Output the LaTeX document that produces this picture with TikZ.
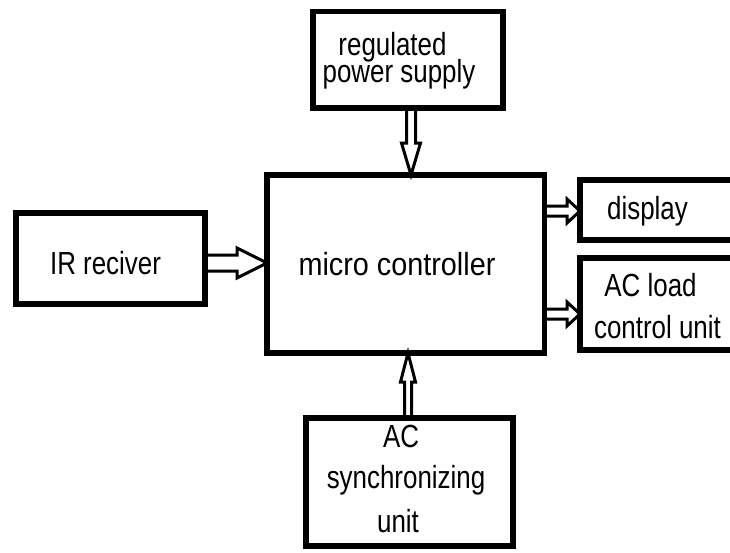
\documentclass[tikz,border=0pt]{standalone}
\usepackage{fontspec}
\setmainfont{Liberation Sans}[FakeStretch=0.81]
\newfontfamily\mcfont{Liberation Sans}[FakeStretch=0.9]
\usetikzlibrary{calc}
\tikzset{
  box/.style={draw, line width=5.5pt, inner sep=0pt, outer sep=0pt, rectangle},
  txt/.style={inner sep=0pt, anchor=base, font=\fontsize{32}{32}\selectfont},
  arrowline/.style={draw, line width=3pt, line join=miter},
}
% vertical hollow arrow: #1 start, #2 end, #3 half shaft, #4 half head, #5 head length
\newcommand\varr[5]{%
  \draw[arrowline] let \p1=(#1), \p2=(#2), \n1={ifthenelse(\y2>\y1,1,-1)},
    \n2={\y2-\n1*#5} in
    ({\x1-#3pt},\y1) -- ({\x1-#3pt},\n2) -- ({\x1-#4pt},\n2) --
    (\x1,\y2) -- ({\x1+#4pt},\n2) -- ({\x1+#3pt},\n2) -- ({\x1+#3pt},\y1);}
% horizontal hollow arrow
\newcommand\harr[5]{%
  \draw[arrowline] let \p1=(#1), \p2=(#2), \n1={ifthenelse(\x2>\x1,1,-1)},
    \n2={\x2-\n1*#5} in
    (\x1,{\y1-#3pt}) -- (\n2,{\y1-#3pt}) -- (\n2,{\y1-#4pt}) --
    (\x2,\y1) -- (\n2,{\y1+#4pt}) -- (\n2,{\y1+#3pt}) -- (\x1,{\y1+#3pt});}
\begin{document}
\begin{tikzpicture}[x=1pt,y=-1pt]
\useasboundingbox (0,0) rectangle (730,552);
\clip (0,0) rectangle (730,552);
\fill[white] (0,0) rectangle (730,552);
% boxes
\node[box, minimum width=190pt, minimum height=96.5pt] (reg) at (408,59.75) {};
\node[box, minimum width=277.5pt, minimum height=178pt] (mc) at (405.75,264) {};
\node[box, minimum width=189pt, minimum height=91pt] (ir) at (110.5,258.5) {};
\node[box, minimum width=160pt, minimum height=60pt] (disp) at (660,210) {};
\node[box, minimum width=160pt, minimum height=92pt] (acl) at (660,304) {};
\node[box, minimum width=207pt, minimum height=128pt] (sync) at (409.5,482) {};
% texts
\node[txt] (t1) at (392.5,55) {regulated};
\node[txt] (t2) at (399,82) {power supply};
\node[txt, font=\mcfont\fontsize{32}{32}\selectfont] (t3) at (397,275) {micro controller};
\node[txt] (t4) at (105.5,274) {IR reciver};
\node[txt] (t5) at (647.5,219) {display};
\node[txt] (t6) at (650.5,296) {AC load};
\node[txt] (t7) at (657.5,338) {control unit};
\node[txt] (t8) at (401,447) {AC};
\node[txt] (t9) at (406,488) {synchronizing};
\node[txt] (t10) at (398,532) {unit};
% arrows
\coordinate (a1) at ($(reg.south)+(3,0)$);
\varr{a1}{mc.north}{4.5}{9.5}{32}
\coordinate (a2) at ($(ir.east)+(0,4.5)$);
\harr{a2}{mc.west}{8}{15}{30}
\coordinate (a3) at (mc.east |- 0,211);
\harr{a3}{disp.west}{5}{12}{13}
\coordinate (a4) at (mc.east |- 0,314);
\harr{a4}{acl.west}{5}{12}{13}
\coordinate (a5) at ($(sync.north)+(-1.5,0)$);
\varr{a5}{mc.south}{3.5}{7.5}{29}
\end{tikzpicture}
\end{document}
